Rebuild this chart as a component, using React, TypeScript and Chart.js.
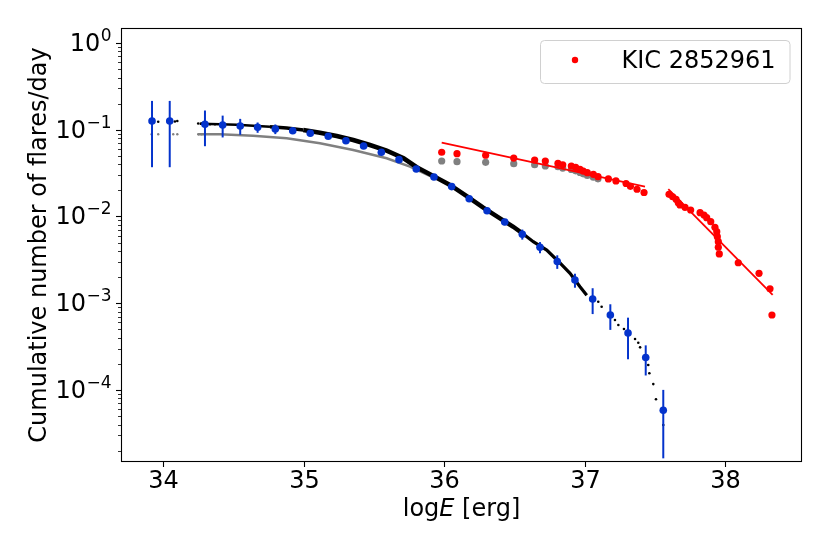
import React, { useEffect, useRef } from "react";
import { Chart, registerables } from "chart.js";

Chart.register(...registerables);

// ---- axis ticks ----
const xTickValues = [34, 35, 36, 37, 38];
const yMajorExponents = [0, -1, -2, -3, -4];
const X_MIN = 33.699;
const X_MAX = 38.549;
const Y_MIN = 1.479e-5;
const Y_MAX = 1.489;

// ---- binned cumulative distribution (blue, with error bars) ----
const blueX = [33.920, 34.046, 34.297, 34.423, 34.548, 34.672, 34.798, 34.922, 35.047, 35.175, 35.301, 35.427, 35.553, 35.679, 35.802, 35.928, 36.054, 36.179, 36.306, 36.432, 36.557, 36.683, 36.806, 36.932, 37.058, 37.184, 37.310, 37.436, 37.561];
const blueY = [0.126, 0.126, 0.1156, 0.1135, 0.1105, 0.1067, 0.102, 0.0975, 0.0910, 0.0840, 0.0748, 0.0650, 0.0550, 0.0452, 0.0353, 0.0285, 0.0221, 0.0160, 0.01165, 0.00865, 0.00624, 0.00442, 0.00303, 0.00185, 0.00112, 0.000733, 0.000454, 0.000237, 0.0000583];
const blueErr = [0.089, 0.089, 0.051, 0.032, 0.023, 0.0145, 0.013, 0.006, 0.0055, 0.005, 0.0045, 0.004, 0.0035, 0.003, 0.0025, 0.002, 0.0016, 0.0012, 0.0009, 0.0007, 0.00083, 0.00065, 0.00054, 0.00034, 0.00037, 0.00024, 0.000228, 0.00009, 0.000042];

// ---- observed cumulative distribution (black) ----
const blackLeftX = [33.964, 34.083, 34.100, 34.249, 34.273, 34.333, 34.368];
const blackLeftY = [0.1238, 0.1245, 0.126, 0.118, 0.118, 0.1155, 0.1155];
const blackBandX = [34.26, 34.404, 34.523, 34.641, 34.760, 34.879, 34.997, 35.116, 35.235, 35.353, 35.472, 35.591, 35.712, 35.805, 35.923, 36.042, 36.161, 36.279, 36.398, 36.493, 36.564, 36.635, 36.731, 36.825, 36.897, 36.968, 37.016];
const blackBandY = [0.1174, 0.1156, 0.1143, 0.1113, 0.1085, 0.1048, 0.0994, 0.0925, 0.0847, 0.0762, 0.0667, 0.0574, 0.0469, 0.0370, 0.0293, 0.0231, 0.0172, 0.01263, 0.00953, 0.00762, 0.00628, 0.00512, 0.00410, 0.00291, 0.00221, 0.00155, 0.00124];
const blackTailX = [37.098, 37.122, 37.217, 37.241, 37.281, 37.360, 37.383, 37.396, 37.454, 37.462, 37.490, 37.509, 37.561];
const blackTailY = [0.001042, 0.000912, 0.000641, 0.000561, 0.000505, 0.000387, 0.000351, 0.000310, 0.000194, 0.000156, 0.000117, 0.0000782, 0.0000395];

// ---- gray distribution ----
const grayLeftX = [33.917, 33.964, 34.071, 34.100, 34.249, 34.273];
const grayLeftY = [0.0886, 0.0886, 0.0886, 0.0886, 0.0886, 0.0886];
const grayLineX = [34.247, 34.404, 34.639, 34.879, 35.116, 35.353, 35.591, 35.757, 35.921];
const grayLineY = [0.0886, 0.0886, 0.0854, 0.0797, 0.0698, 0.0584, 0.0469, 0.0375, 0.0282];

// ---- KIC 2852961 (red) ----
const redX = [35.983, 36.092, 36.296, 36.496, 36.645, 36.721, 36.811, 36.845, 36.906, 36.937, 36.968, 36.991, 37.020, 37.063, 37.096, 37.170, 37.224, 37.296, 37.327, 37.374, 37.424, 37.602, 37.628, 37.652, 37.668, 37.680, 37.716, 37.756, 37.823, 37.851, 37.870, 37.899, 37.929, 37.942, 37.946, 37.953, 37.953, 37.960, 38.095, 38.243, 38.321, 38.335];
const redY = [0.0550, 0.0530, 0.0508, 0.0472, 0.0448, 0.0436, 0.0410, 0.0395, 0.0382, 0.0369, 0.0350, 0.0334, 0.0320, 0.0306, 0.0288, 0.0271, 0.0257, 0.0240, 0.0223, 0.0206, 0.0189, 0.0180, 0.0169, 0.0158, 0.0144, 0.0136, 0.01276, 0.01188, 0.01106, 0.01040, 0.00968, 0.00871, 0.00751, 0.00668, 0.00585, 0.00513, 0.00442, 0.00370, 0.00293, 0.00221, 0.00147, 0.000732];
const grayRedX = [35.983, 36.092, 36.296, 36.496, 36.645, 36.721, 36.811, 36.845, 36.906, 36.937, 36.968, 36.991, 37.020, 37.063, 37.096];
const grayRedY = [0.0436, 0.0428, 0.0421, 0.0406, 0.0395, 0.0382, 0.0375, 0.0362, 0.0348, 0.0336, 0.0322, 0.0310, 0.0297, 0.0284, 0.0272];
const fit1X = [35.983, 37.431];
const fit1Y = [0.0709, 0.0221];
const fit2X = [37.597, 38.340];
const fit2Y = [0.0207, 0.001245];

const legendLabel = "KIC 2852961";
const yTitle = "Cumulative number of flares/day";

const FONT = '"DejaVu Sans", "Liberation Sans", sans-serif';
const BLUE = "#0433cc";
const RED = "#ff0000";
const GRAY = "#808080";

const pts = (xs: number[], ys: number[]) => xs.map((x, i) => ({ x, y: ys[i] }));

const overlay = {
  id: "overlay",
  beforeDatasetDraw(chart: any, args: any) {
    const ds = chart.data.datasets[args.index];
    if (!ds.errors) return;
    const { ctx } = chart;
    const xs = chart.scales.x;
    const ys = chart.scales.y;
    ctx.save();
    ctx.strokeStyle = ds.backgroundColor;
    ctx.lineWidth = 2;
    ds.data.forEach((p: any, i: number) => {
      const e = ds.errors[i];
      const px = xs.getPixelForValue(p.x);
      const y1 = ys.getPixelForValue(p.y + e);
      const y2 = ys.getPixelForValue(Math.max(p.y - e, 1e-9));
      ctx.beginPath();
      ctx.moveTo(px, y1);
      ctx.lineTo(px, y2);
      ctx.stroke();
    });
    ctx.restore();
  },
  afterDraw(chart: any) {
    const { ctx, chartArea } = chart;
    const { left, right, top, bottom } = chartArea;
    const xs = chart.scales.x;
    const ys = chart.scales.y;
    ctx.save();
    // frame
    ctx.strokeStyle = "#000";
    ctx.lineWidth = 1.1;
    ctx.strokeRect(left + 0.5, top + 0.5, right - left - 1, bottom - top - 1);

    ctx.fillStyle = "#000";
    // x ticks
    ctx.font = `24px ${FONT}`;
    ctx.textAlign = "center";
    ctx.textBaseline = "alphabetic";
    xTickValues.forEach((v) => {
      const px = Math.round(xs.getPixelForValue(v)) + 0.5;
      ctx.beginPath();
      ctx.moveTo(px, bottom);
      ctx.lineTo(px, bottom + 5);
      ctx.stroke();
      ctx.fillText(String(v), px, bottom + 26);
    });

    // y minor ticks
    ctx.lineWidth = 0.8;
    for (let e = -6; e <= 1; e++) {
      for (let m = 2; m <= 9; m++) {
        const v = m * Math.pow(10, e);
        if (v < Y_MIN || v > Y_MAX) continue;
        const py = Math.round(ys.getPixelForValue(v)) + 0.5;
        ctx.beginPath();
        ctx.moveTo(left - 3, py);
        ctx.lineTo(left, py);
        ctx.stroke();
      }
    }
    // y major ticks + labels
    ctx.lineWidth = 1.1;
    yMajorExponents.forEach((ex) => {
      const v = Math.pow(10, ex);
      const py = Math.round(ys.getPixelForValue(v)) + 0.5;
      ctx.beginPath();
      ctx.moveTo(left - 5, py);
      ctx.lineTo(left, py);
      ctx.stroke();
      const sup = ex === 0 ? "0" : "\u2212" + Math.abs(ex);
      ctx.font = `24px ${FONT}`;
      const wb = ctx.measureText("10").width;
      ctx.font = `17px ${FONT}`;
      const wsup = ctx.measureText(sup).width;
      const xEnd = left - 9.5;
      const x0 = xEnd - wsup - wb - 0.5;
      ctx.textAlign = "left";
      ctx.font = `24px ${FONT}`;
      ctx.fillText("10", x0, py + 7.8);
      ctx.font = `17px ${FONT}`;
      ctx.fillText(sup, x0 + wb + 0.5, py - 2.6);
    });

    // y title
    ctx.save();
    ctx.font = `24px ${FONT}`;
    ctx.translate(46, (top + bottom) / 2);
    ctx.rotate(-Math.PI / 2);
    ctx.textAlign = "center";
    ctx.fillText(yTitle, 0, 0);
    ctx.restore();

    // x title: log E [erg]
    ctx.textAlign = "left";
    const partA = "log";
    const partB = "E";
    const partC = " [erg]";
    ctx.font = `24px ${FONT}`;
    const wa = ctx.measureText(partA).width;
    const wc = ctx.measureText(partC).width;
    ctx.font = `italic 24px ${FONT}`;
    const wbb = ctx.measureText(partB).width;
    const total = wa + wbb + wc;
    let tx = (left + right) / 2 - total / 2;
    const ty = 515.5;
    ctx.font = `24px ${FONT}`;
    ctx.fillText(partA, tx, ty);
    tx += wa;
    ctx.font = `italic 24px ${FONT}`;
    ctx.fillText(partB, tx, ty);
    tx += wbb;
    ctx.font = `24px ${FONT}`;
    ctx.fillText(partC, tx, ty);

    // legend
    const lx = 540.5, ly = 40.5, lw = 249.5, lh = 43, r = 4;
    ctx.beginPath();
    ctx.moveTo(lx + r, ly);
    ctx.lineTo(lx + lw - r, ly);
    ctx.quadraticCurveTo(lx + lw, ly, lx + lw, ly + r);
    ctx.lineTo(lx + lw, ly + lh - r);
    ctx.quadraticCurveTo(lx + lw, ly + lh, lx + lw - r, ly + lh);
    ctx.lineTo(lx + r, ly + lh);
    ctx.quadraticCurveTo(lx, ly + lh, lx, ly + lh - r);
    ctx.lineTo(lx, ly + r);
    ctx.quadraticCurveTo(lx, ly, lx + r, ly);
    ctx.closePath();
    ctx.fillStyle = "rgba(255,255,255,0.8)";
    ctx.fill();
    ctx.strokeStyle = "#d0d0d0";
    ctx.lineWidth = 1;
    ctx.stroke();
    ctx.fillStyle = RED;
    ctx.beginPath();
    ctx.arc(575, 60, 3.2, 0, Math.PI * 2);
    ctx.fill();
    ctx.fillStyle = "#000";
    ctx.font = `24px ${FONT}`;
    ctx.textAlign = "left";
    ctx.fillText(legendLabel, 621.5, 68.3);
    ctx.restore();
  },
};

export default function App() {
  const ref = useRef<HTMLCanvasElement | null>(null);
  useEffect(() => {
    document.body.style.margin = "0";
    const canvas = ref.current;
    if (!canvas) return;
    const bandWidth = (ctx: any) => {
      const x0 = ctx.p0.parsed.x;
      if (x0 < 34.7) return 2.5;
      if (x0 < 34.95) return 3.5;
      if (x0 < 36.55) return 4.5;
      return 3.2;
    };
    const chart = new Chart(canvas, {
      type: "scatter",
      data: {
        datasets: [
          {
            label: "fit2",
            data: pts(fit2X, fit2Y),
            showLine: true,
            pointRadius: 0,
            borderColor: RED,
            borderWidth: 1.8,
            order: 1,
          } as any,
          {
            label: "fit1",
            data: pts(fit1X, fit1Y),
            showLine: true,
            pointRadius: 0,
            borderColor: RED,
            borderWidth: 1.8,
            order: 2,
          },
          {
            label: legendLabel,
            data: pts(redX, redY),
            pointRadius: 3.6,
            pointBorderWidth: 0,
            backgroundColor: RED,
            borderColor: RED,
            order: 3,
          },
          {
            label: "grayRed",
            data: pts(grayRedX, grayRedY),
            pointRadius: 3.6,
            pointBorderWidth: 0,
            backgroundColor: GRAY,
            borderColor: GRAY,
            order: 4,
          },
          {
            label: "binned",
            data: pts(blueX, blueY),
            errors: blueErr,
            pointRadius: 3.8,
            pointBorderWidth: 0,
            backgroundColor: BLUE,
            borderColor: BLUE,
            order: 5,
          },
          {
            label: "blackTail",
            data: pts(blackTailX, blackTailY),
            pointRadius: 1.3,
            pointBorderWidth: 0,
            backgroundColor: "#000",
            borderColor: "#000",
            order: 6,
          },
          {
            label: "blackLeft",
            data: pts(blackLeftX, blackLeftY),
            pointRadius: 1.3,
            pointBorderWidth: 0,
            backgroundColor: "#000",
            borderColor: "#000",
            order: 7,
          },
          {
            label: "blackBand",
            data: pts(blackBandX, blackBandY),
            showLine: true,
            pointRadius: 0,
            borderColor: "#000",
            borderWidth: 4,
            segment: { borderWidth: bandWidth },
            order: 8,
          },
          {
            label: "grayLeft",
            data: pts(grayLeftX, grayLeftY),
            pointRadius: 1.2,
            pointBorderWidth: 0,
            backgroundColor: GRAY,
            borderColor: GRAY,
            order: 9,
          },
          {
            label: "grayLine",
            data: pts(grayLineX, grayLineY),
            showLine: true,
            pointRadius: 0,
            borderColor: GRAY,
            borderWidth: 2.4,
            order: 10,
          },
        ] as any,
      },
      options: {
        animation: false,
        responsive: false,
        layout: { padding: { left: 121, right: 28, top: 28, bottom: 92 } },
        scales: {
          x: { type: "linear", min: X_MIN, max: X_MAX, display: false },
          y: { type: "logarithmic", min: Y_MIN, max: Y_MAX, display: false },
        },
        plugins: { legend: { display: false }, tooltip: { enabled: false } },
      },
      plugins: [overlay as any],
    });
    return () => chart.destroy();
  }, []);
  return <canvas ref={ref} width={830} height={554} style={{ display: "block" }} />;
}
